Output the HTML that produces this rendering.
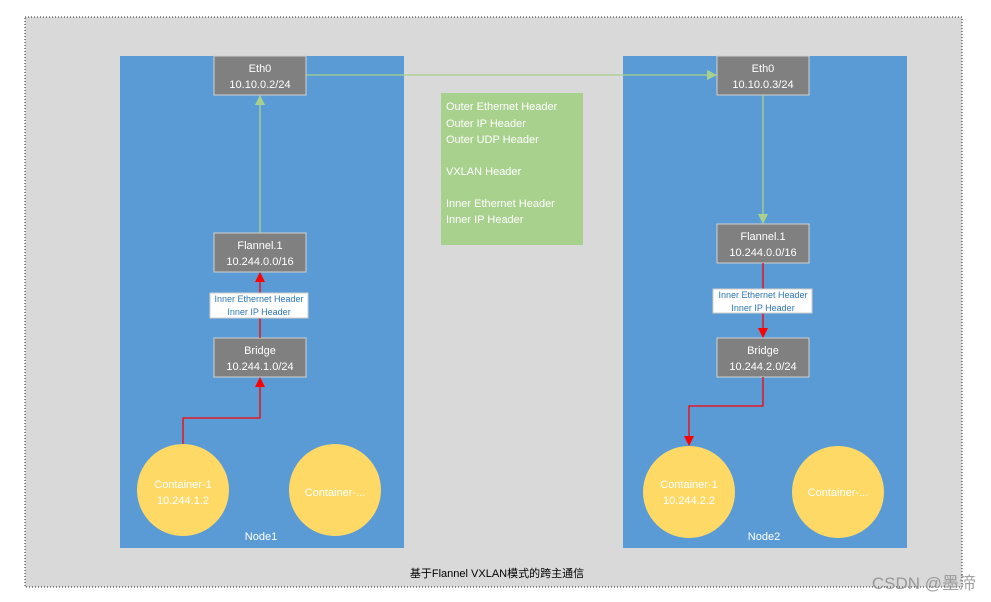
<!DOCTYPE html>
<html><head><meta charset="utf-8"><style>
html,body{margin:0;padding:0;background:#fff;width:991px;height:602px;overflow:hidden}
svg{display:block;font-family:"Liberation Sans","Noto Sans CJK SC",sans-serif}
</style></head><body>
<svg width="991" height="602" viewBox="0 0 991 602" xmlns="http://www.w3.org/2000/svg">
<defs>
<marker id="ag" markerWidth="10" markerHeight="10" refX="9" refY="5" orient="auto" markerUnits="userSpaceOnUse"><path d="M0,0 L10,5 L0,10 z" fill="#a9d18e"/></marker>
<marker id="ar" markerWidth="10" markerHeight="10" refX="9" refY="5" orient="auto" markerUnits="userSpaceOnUse"><path d="M0,0 L10,5 L0,10 z" fill="#ff0000"/></marker>
</defs>
<rect x="25" y="17" width="937" height="570" fill="#d9d9d9" stroke="#222" stroke-width="1" stroke-dasharray="1,2"/>
<rect x="120" y="56" width="284" height="492" fill="#5b9bd5"/>
<rect x="623" y="56" width="284" height="492" fill="#5b9bd5"/>
<g fill="#808080" stroke="#d0d0d0" stroke-width="1">
<rect x="214" y="56" width="92" height="39"/>
<rect x="214" y="233" width="92" height="39"/>
<rect x="214" y="338" width="92" height="39"/>
<rect x="717" y="56" width="92" height="39"/>
<rect x="717" y="224" width="92" height="39"/>
<rect x="717" y="338" width="92" height="39"/>
</g>
<rect x="441" y="93" width="142" height="152" fill="#a9d18e"/>
<g fill="#ffd966">
<circle cx="183" cy="490" r="46"/><circle cx="335" cy="490" r="46"/>
<circle cx="689" cy="492" r="46"/><circle cx="838" cy="492" r="46"/>
</g>
<g fill="none" stroke-width="1.3">
<path d="M306 75 H716" stroke="#a9d18e" marker-end="url(#ag)"/>
<path d="M260 233 V96" stroke="#a9d18e" marker-end="url(#ag)"/>
<path d="M763 95 V223" stroke="#a9d18e" marker-end="url(#ag)"/>
<path d="M260 338 V273" stroke="#ff0000" marker-end="url(#ar)"/>
<path d="M183 444 V418 H260 V378" stroke="#ff0000" marker-end="url(#ar)"/>
<path d="M763 263 V337" stroke="#ff0000" marker-end="url(#ar)"/>
<path d="M763 377 V406 H689 V445" stroke="#ff0000" marker-end="url(#ar)"/>
</g>
<rect x="210" y="293" width="98" height="25" fill="#fff" stroke="#ccc"/>
<rect x="713" y="289" width="99" height="24" fill="#fff" stroke="#ccc"/>
<g fill="#fff" font-size="11" text-anchor="middle">
<text x="260" y="72">Eth0</text><text x="260" y="88">10.10.0.2/24</text>
<text x="260" y="249">Flannel.1</text><text x="260" y="265">10.244.0.0/16</text>
<text x="260" y="354">Bridge</text><text x="260" y="370">10.244.1.0/24</text>
<text x="763" y="72">Eth0</text><text x="763" y="88">10.10.0.3/24</text>
<text x="763" y="240">Flannel.1</text><text x="763" y="256">10.244.0.0/16</text>
<text x="763" y="354">Bridge</text><text x="763" y="370">10.244.2.0/24</text>
<text x="183" y="488">Container-1</text><text x="183" y="504">10.244.1.2</text>
<text x="335" y="496">Container-...</text>
<text x="689" y="488">Container-1</text><text x="689" y="504">10.244.2.2</text>
<text x="838" y="496">Container-...</text>
<text x="261" y="540">Node1</text><text x="764" y="540">Node2</text>
</g>
<g fill="#2e75b6" font-size="9" text-anchor="middle">
<text x="259" y="302">Inner Ethernet Header</text><text x="259" y="315">Inner IP Header</text>
<text x="763" y="298">Inner Ethernet Header</text><text x="763" y="311">Inner IP Header</text>
</g>
<g fill="#fff" font-size="11">
<text x="446" y="110">Outer Ethernet Header</text>
<text x="446" y="127">Outer IP Header</text>
<text x="446" y="143">Outer UDP Header</text>
<text x="446" y="175">VXLAN Header</text>
<text x="446" y="207">Inner Ethernet Header</text>
<text x="446" y="223">Inner IP Header</text>
</g>
<text x="497" y="577" font-size="11" text-anchor="middle" fill="#000">基于Flannel VXLAN模式的跨主通信</text>
<text x="976" y="589" font-size="17" text-anchor="end" fill="#888" opacity="0.8">CSDN @墨渧</text>
</svg>
</body></html>
